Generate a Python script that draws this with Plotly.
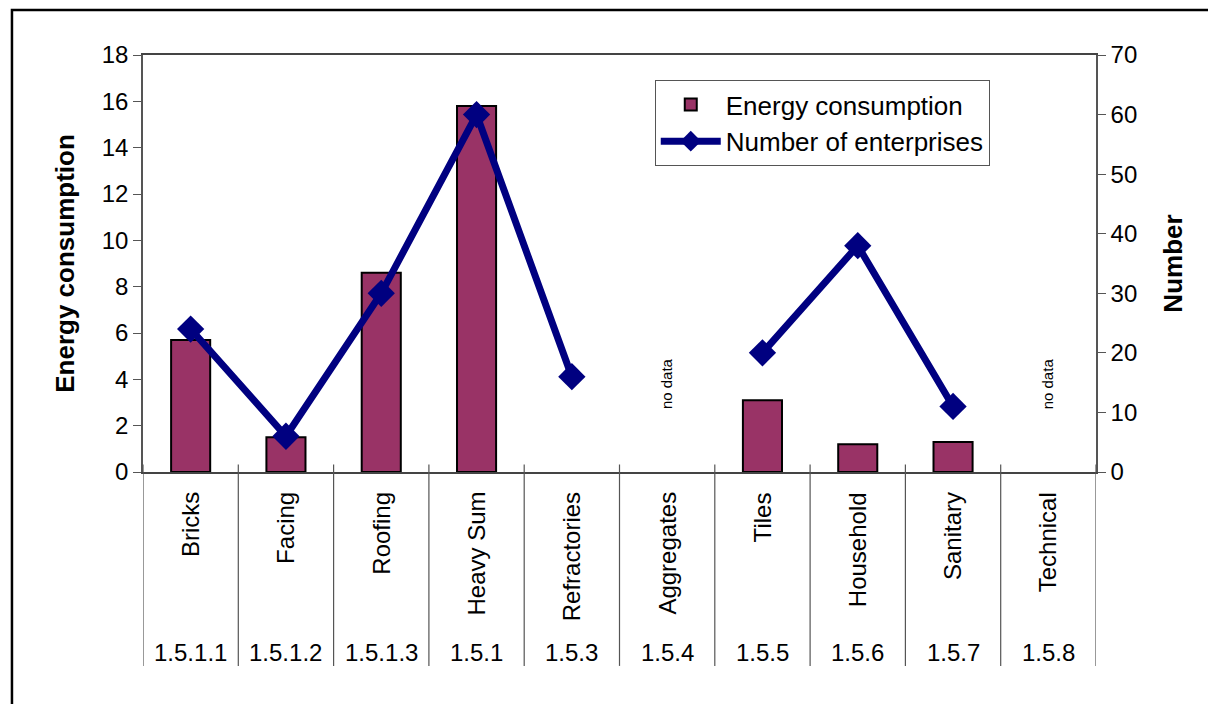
import plotly.graph_objects as go

# Product groups and their classification codes
categories = ["Bricks", "Facing", "Roofing", "Heavy Sum", "Refractories",
              "Aggregates", "Tiles", "Household", "Sanitary", "Technical"]
codes = ["1.5.1.1", "1.5.1.2", "1.5.1.3", "1.5.1", "1.5.3",
         "1.5.4", "1.5.5", "1.5.6", "1.5.7", "1.5.8"]

# Series values (None = not available)
energy = [5.7, 1.5, 8.6, 15.8, None, None, 3.1, 1.2, 1.3, None]
enterprises = [24, 6, 30, 60, 16, None, 20, 38, 11, None]
no_data = ["Aggregates", "Technical"]

left_ticks = [0, 2, 4, 6, 8, 10, 12, 14, 16, 18]
right_ticks = [0, 10, 20, 30, 40, 50, 60, 70]

FONT = "Liberation Sans, Arial, sans-serif"

fig = go.Figure()
fig.add_trace(go.Bar(
    x=categories, y=energy, name="Energy consumption",
    marker=dict(color="#993366", line=dict(color="#000000", width=2)),
    width=0.41,
))
fig.add_trace(go.Scatter(
    x=categories, y=enterprises, name="Number of enterprises", yaxis="y2",
    mode="lines+markers", connectgaps=False,
    line=dict(color="#000080", width=7),
    marker=dict(symbol="diamond", size=21, color="#000080"),
))

annotations = []
for cat in no_data:
    annotations.append(dict(
        x=cat, y=3.8, xref="x", yref="y", text="no data", showarrow=False,
        textangle=-90, font=dict(family=FONT, size=15, color="#000000"),
    ))
for cat, code in zip(categories, codes):
    annotations.append(dict(
        x=cat, y=-0.043, xref="x", yref="paper", text=cat, showarrow=False,
        textangle=-90, yanchor="top",
        font=dict(family=FONT, size=24, color="#000000"),
    ))
    annotations.append(dict(
        x=cat, y=-0.434, xref="x", yref="paper", text=code, showarrow=False,
        yanchor="middle", font=dict(family=FONT, size=24, color="#000000"),
    ))

shapes = []
# Category separators below the axis
for i in range(len(categories) + 1):
    shapes.append(dict(
        type="line", xref="x", yref="paper",
        x0=i - 0.5, x1=i - 0.5, y0=0.018, y1=-0.465,
        line=dict(color="#555555", width=1.2),
    ))
# Outer frame
shapes.append(dict(
    type="rect", xref="paper", yref="paper",
    x0=-0.1375, x1=1.3, y0=1.108, y1=-0.8,
    line=dict(color="#000000", width=2.5), layer="below",
))

fig.update_layout(
    width=1208, height=704,
    margin=dict(l=143, r=112, t=55, b=232),
    paper_bgcolor="white", plot_bgcolor="white",
    font=dict(family=FONT, size=24, color="#000000"),
    showlegend=True,
    legend=dict(
        x=0.537, y=0.94, xanchor="left", yanchor="top",
        bgcolor="white", bordercolor="#555555", borderwidth=1,
        font=dict(family=FONT, size=26, color="#000000"),
        tracegroupgap=2, itemwidth=60,
    ),
    bargap=0.59,
    xaxis=dict(
        type="category", range=[-0.5, len(categories) - 0.5],
        showticklabels=False, ticks="", showgrid=False,
        showline=True, mirror=True, linecolor="#444444", linewidth=1.5,
    ),
    yaxis=dict(
        range=[0, 18], tickvals=left_ticks, showgrid=False, zeroline=False,
        showline=True, linecolor="#555555", linewidth=1.5,
        ticks="outside", ticklen=8, tickcolor="#555555",
        tickfont=dict(family=FONT, size=24),
        title=dict(text="<b>Energy consumption</b>", standoff=20,
                   font=dict(family=FONT, size=26)),
    ),
    yaxis2=dict(
        range=[0, 70], tickvals=right_ticks, overlaying="y", side="right",
        showgrid=False, zeroline=False,
        showline=True, linecolor="#555555", linewidth=1.5,
        ticks="outside", ticklen=8, tickcolor="#555555",
        tickfont=dict(family=FONT, size=24),
        title=dict(text="<b>Number</b>", standoff=28,
                   font=dict(family=FONT, size=26)),
    ),
    annotations=annotations,
    shapes=shapes,
)

fig.write_html("out.html")
